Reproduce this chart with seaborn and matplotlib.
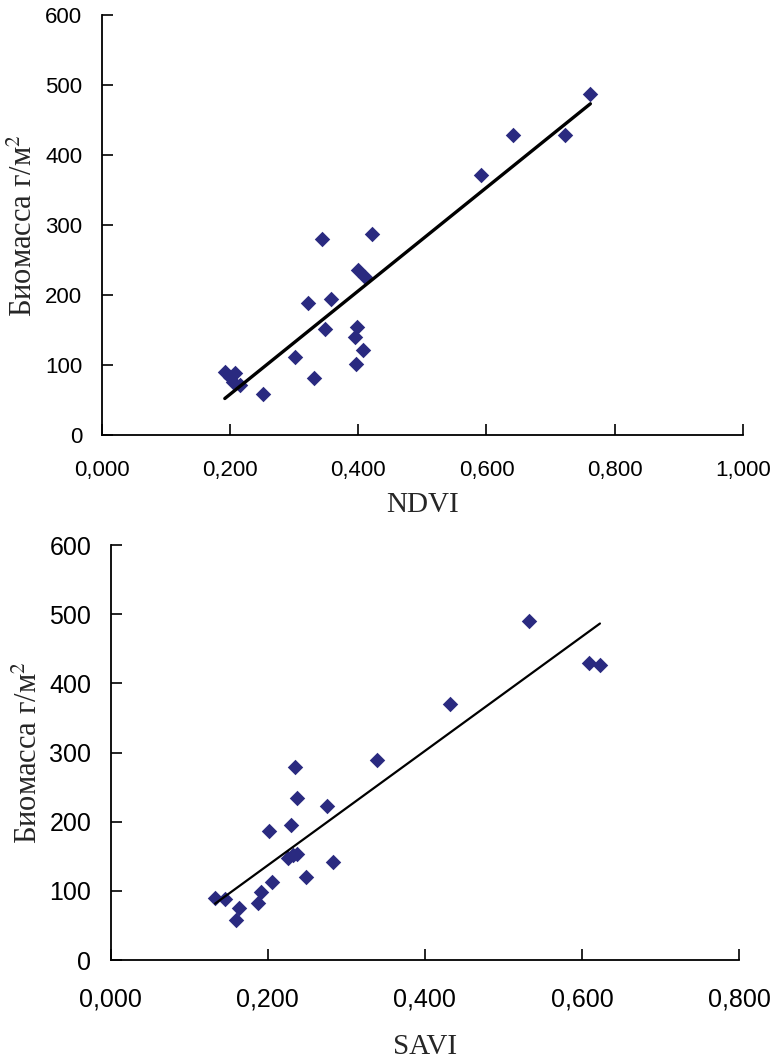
import matplotlib
matplotlib.use("Agg")
import matplotlib.pyplot as plt
import seaborn as sns
import numpy as np
from matplotlib.ticker import FuncFormatter

# NDVI vs biomass (upper panel)
ndvi = [0.762, 0.641, 0.722, 0.592, 0.343, 0.422, 0.400, 0.410, 0.322, 0.358,
        0.349, 0.398, 0.395, 0.407, 0.396, 0.302, 0.331, 0.251,
        0.192, 0.208, 0.205, 0.216, 0.200]
ndvi_biomass = [487, 429, 429, 371, 280, 287, 236, 226, 188, 194,
                151, 155, 140, 121, 101, 112, 82, 58,
                90, 88, 76, 71, 83]

# SAVI vs biomass (lower panel)
savi = [0.533, 0.609, 0.623, 0.432, 0.339, 0.235, 0.237, 0.275, 0.230, 0.202,
        0.232, 0.226, 0.237, 0.283, 0.249, 0.205, 0.192, 0.188,
        0.133, 0.145, 0.163, 0.159]
savi_biomass = [490, 430, 426, 370, 289, 279, 235, 222, 195, 186,
                152, 147, 153, 142, 120, 113, 99, 82,
                89, 88, 75, 58]

ndvi_ticks = [0.0, 0.2, 0.4, 0.6, 0.8, 1.0]
savi_ticks = [0.0, 0.2, 0.4, 0.6, 0.8]
biomass_ticks = [0, 100, 200, 300, 400, 500, 600]

POINT_COLOR = '#2A2A80'
Y_LABEL = 'Биомасса г/м$^2$'

sns.set_style("white")
plt.rcParams['font.family'] = ['Liberation Sans', 'DejaVu Sans']
plt.rcParams['mathtext.fontset'] = 'stix'

comma_fmt = FuncFormatter(lambda v, p: f"{v:.3f}".replace(".", ","))


def draw_panel(ax, x, y, xticks, xlabel, tick_size, line_width, xpad, xlabelpad):
    sns.regplot(x=np.array(x), y=np.array(y), ax=ax, ci=None, marker='D',
                scatter_kws={'s': 62, 'color': POINT_COLOR, 'linewidths': 0, 'alpha': 1},
                line_kws={'color': 'black', 'linewidth': line_width})
    ax.set_xlim(xticks[0], xticks[-1])
    ax.set_ylim(0, 600)
    ax.set_xticks(xticks)
    ax.set_yticks(biomass_ticks)
    ax.xaxis.set_major_formatter(comma_fmt)
    for side in ['top', 'right']:
        ax.spines[side].set_visible(False)
    for side in ['left', 'bottom']:
        ax.spines[side].set_color('black')
        ax.spines[side].set_linewidth(1.3)
    ax.tick_params(axis='both', direction='in', length=8, width=1.2,
                   bottom=True, left=True, colors='black', labelsize=tick_size)
    ax.tick_params(axis='x', pad=xpad)
    ax.tick_params(axis='y', pad=14)
    ax.set_xlabel(xlabel, fontsize=21, family='Liberation Serif', labelpad=xlabelpad)
    ax.set_ylabel(Y_LABEL, fontsize=22, family='Liberation Serif', labelpad=4)
    ax.grid(False)


fig = plt.figure(figsize=(7.75, 10.6), dpi=100)
ax_top = fig.add_axes([0.1312, 0.5896, 0.8275, 0.3962])
ax_bot = fig.add_axes([0.1428, 0.0943, 0.8107, 0.3915])

draw_panel(ax_top, ndvi, ndvi_biomass, ndvi_ticks, 'NDVI', 16, 2.4, 18, 8)
draw_panel(ax_bot, savi, savi_biomass, savi_ticks, 'SAVI', 18, 1.6, 20, 16)

fig.savefig('out.png', dpi=100)
plt.close(fig)
